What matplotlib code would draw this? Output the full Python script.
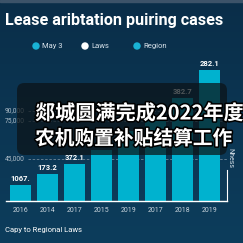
import numpy as np
import matplotlib
matplotlib.use("Agg")
import matplotlib.pyplot as plt
from matplotlib.patches import FancyBboxPatch
import matplotlib.patheffects as pe

# data (bar heights in axis units, labels as printed)
years = ["2016", "2014", "2017", "2015", "2019", "2017", "2018", "2019"]
heights = [16, 27, 37, 51, 70, 83, 103, 131]
value_labels = ["1067.", "173.2", "372.1", "", "", "", "382.7", "282.1"]
ytick_pos = [42, 80, 90]
ytick_labels = ["45,000", "75,000", "90,000"]
legend_names = ["May 3", "Laws", "Region"]
legend_colors = ["#19b3d6", "#ffffff", "#19b3d6"]

W = 243
BG_TOP = "#0a2e49"
BG_BOT = "#0d3d5c"
BAR = "#00b2cf"

fig = plt.figure(figsize=(2.43, 2.43), dpi=100)

# background gradient
bg = fig.add_axes([0, 0, 1, 1], zorder=-10)
grad = np.linspace(0, 1, 256).reshape(-1, 1)
c0 = np.array(matplotlib.colors.to_rgb(BG_TOP))
c1 = np.array(matplotlib.colors.to_rgb(BG_BOT))
img = c0[None, None, :] * (1 - grad[:, :, None]) + c1[None, None, :] * grad[:, :, None]
bg.imshow(img, aspect="auto", extent=[0, 1, 0, 1])
bg.add_patch(plt.Rectangle((0, 1 - 2 / W), 1, 2 / W, color="#3c5369"))
bg.set_axis_off()


def px(x, y):
    # pixel (from top-left) -> figure fraction
    return x / W, 1 - y / W


# title and legend
fig.text(*px(5, 20), "Lease aribtation puiring cases", color="white",
         fontsize=11.6, fontweight="bold", family="Roboto", va="center")
leg_x = [36, 85, 137]
for x, name, col in zip(leg_x, legend_names, legend_colors):
    fig.patches.append(plt.Circle(px(x, 46), 3 / W, color=col,
                                  transform=fig.transFigure))
    fig.text(*px(x + 6, 46), name, color="#d8e2ea", fontsize=5.5,
             family="Roboto", va="center")

# chart
ax = fig.add_axes([6 / W, 1 - 201 / W, 221 / W, 141 / W])
ax.set_facecolor("none")
xs = np.arange(len(years))
ax.bar(xs, heights, width=0.78, color=BAR, zorder=2)
ax.set_xlim(-0.537, 7.648)
ax.set_ylim(0, 141)

gx0 = -0.537 + 22 / 27
for yp, lab in zip(ytick_pos, ytick_labels):
    ax.hlines(yp, gx0, 7.648, colors="#6f8799", linestyles=(0, (3, 2)),
              linewidth=0.6, zorder=1)
    ax.text(-0.537 - 1 / 27, yp, lab, color="#aebdc8", fontsize=4.8,
            family="Roboto", va="center", ha="left")

for x, h, lab in zip(xs, heights, value_labels):
    if lab:
        ax.text(x, h + 3, lab, color="white", fontsize=5.5, fontweight="bold",
                family="Roboto", ha="center", va="bottom", zorder=3)

ax.set_xticks(xs)
ax.set_xticklabels(years, color="#c8d4dc", fontsize=5, family="Roboto")
ax.tick_params(axis="x", length=0, pad=4)
ax.set_yticks([])
for s in ["top", "left"]:
    ax.spines[s].set_visible(False)
ax.spines["bottom"].set_color("white")
ax.spines["bottom"].set_linewidth(1.0)
ax.spines["right"].set_color("white")
ax.spines["right"].set_linewidth(0.8)
ax.spines["right"].set_bounds(0, 31)
ax.text(7.76, 43, "Nhess", rotation=-90, color="#d8e2ea", fontsize=5,
        family="Roboto", ha="center", va="center", clip_on=False)

# footer
fig.text(*px(5, 230), "Capy to Regional Laws", color="white", fontsize=5.5,
         family="Roboto", va="center")

# overlay box with caption
x0, y0 = px(17, 155)
box = FancyBboxPatch((x0, y0), 210 / W, 72 / W,
                     boxstyle="round,pad=0,rounding_size=0.03",
                     transform=fig.transFigure, facecolor="#0b1317",
                     edgecolor="none", alpha=0.72, zorder=5)
fig.patches.append(box)
stroke = [pe.withStroke(linewidth=2.2, foreground="black")]
fig.text(*px(35, 113), "郯城圆满完成2022年度", color="white", fontsize=14.5,
         fontweight="bold", family=["Noto Sans CJK SC", "DejaVu Sans"],
         va="center", zorder=6, path_effects=stroke)
fig.text(*px(35, 139), "农机购置补贴结算工作", color="white", fontsize=14.2,
         fontweight="bold", family=["Noto Sans CJK SC", "DejaVu Sans"],
         va="center", zorder=6, path_effects=stroke)

fig.savefig("out.png", dpi=100)
